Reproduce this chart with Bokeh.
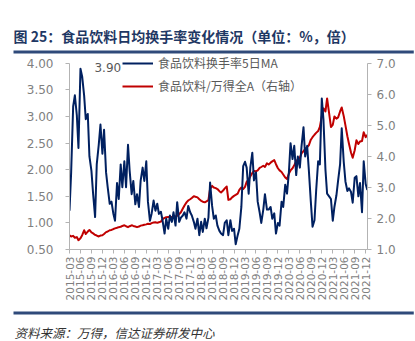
import pandas as pd
from bokeh.plotting import figure
from bokeh.models import (Range1d, LinearAxis, FixedTicker, Legend, LegendItem,
                          Label, PrintfTickFormatter, Title)
from bokeh.embed import file_html
from bokeh.resources import INLINE

# ---------------- data ----------------
title_text = "图 25：食品饮料日均换手率变化情况（单位：%，倍）"
source_text = "资料来源：万得，信达证券研发中心"
series_names = ["食品饮料换手率5日MA", "食品饮料/万得全A（右轴）"]

# semi-monthly observation dates (1st and 15th of each month)
dates = pd.date_range("2015-03-01", "2021-12-15", freq="SMS")

# 食品饮料换手率5日MA (%), left axis
turnover = [
    1.23, 1.95, 3.19, 3.40, 3.03, 2.41, 3.90, 3.75, 3.40, 2.95,
    3.05, 2.25, 1.98, 1.54, 1.11, 2.10, 2.47, 2.85, 2.30, 2.75,
    1.95, 1.67, 1.36, 1.40, 1.17, 1.04, 1.75, 1.45, 2.10, 1.67,
    2.16, 1.67, 2.47, 1.98, 1.54, 1.79, 1.35, 1.54, 1.30, 1.79,
    2.04, 1.79, 2.16, 1.40, 1.04, 1.17, 1.42, 1.23, 1.36, 1.17,
    1.21, 1.04, 0.80, 1.08, 0.89, 1.14, 1.02, 1.20, 0.95, 1.39,
    1.02, 1.10, 1.14, 1.20, 1.08, 1.32, 1.20, 1.14, 1.02, 0.89,
    1.08, 0.77, 1.02, 0.83, 1.08, 0.90, 1.10, 1.76, 1.32, 1.08,
    1.14, 0.95, 0.85, 0.80, 0.77, 1.00, 1.05, 0.77, 1.05, 0.85,
    0.89, 0.60, 0.77, 0.89, 1.30, 2.07, 2.15, 2.04, 1.55, 2.05,
    2.32, 1.80, 1.95, 1.40, 1.20, 1.00, 1.25, 1.54, 1.25, 1.25,
    1.30, 1.08, 1.18, 0.80, 1.00, 0.95, 1.40, 1.30, 1.72, 1.55,
    1.95, 2.50, 2.20, 2.45, 1.90, 2.25, 2.04, 2.45, 2.80, 2.25,
    2.45, 2.00, 1.40, 0.93, 1.05, 1.60, 2.16, 2.10, 3.34, 2.95,
    2.00, 1.55, 1.50, 1.45, 1.04, 1.30, 1.52, 1.80, 2.10, 2.78,
    2.15, 1.78, 1.60, 1.65, 1.58, 1.38, 1.85, 1.88, 1.50, 1.75,
    1.20, 2.16, 1.73, 1.62,
]

# 食品饮料/万得全A (倍), right axis
ratio = [
    1.46, 1.42, 1.44, 1.38, 1.40, 1.30, 1.36, 1.46, 1.62, 1.50,
    1.58, 1.63, 1.55, 1.52, 1.47, 1.45, 1.42, 1.45, 1.46, 1.50,
    1.56, 1.58, 1.62, 1.63, 1.66, 1.68, 1.70, 1.72, 1.73, 1.76,
    1.78, 1.75, 1.72, 1.75, 1.78, 1.76, 1.74, 1.72, 1.74, 1.77,
    1.78, 1.80, 1.81, 1.83, 1.82, 1.85, 1.87, 1.88, 1.86, 1.88,
    1.90, 1.98, 2.02, 2.04, 2.05, 2.03, 2.05, 2.04, 2.07, 2.09,
    2.14, 2.20, 2.32, 2.42, 2.52, 2.58, 2.62, 2.66, 2.72, 2.70,
    2.68, 2.62, 2.57, 2.54, 2.52, 2.55, 2.60, 2.95, 3.05, 3.00,
    2.98, 2.95, 2.88, 2.84, 2.90, 2.97, 3.03, 2.60, 2.62, 2.68,
    2.73, 2.76, 2.80, 2.92, 3.00, 2.95, 3.02, 3.18, 3.26, 3.36,
    3.47, 3.53, 3.52, 3.55, 3.63, 3.66, 3.70, 3.66, 3.78, 3.74,
    3.80, 3.84, 3.88, 3.75, 3.62, 3.55, 3.50, 3.42, 3.32, 3.27,
    3.45, 3.55, 3.62, 3.72, 3.85, 3.90, 3.96, 4.10, 4.17, 4.25,
    4.30, 4.36, 4.54, 4.62, 4.70, 4.76, 4.82, 4.95, 5.30, 5.55,
    5.45, 5.87, 5.40, 4.95, 5.02, 5.29, 5.22, 5.26, 5.45, 5.58,
    5.30, 5.00, 4.65, 4.40, 4.12, 3.96, 4.20, 4.52, 4.40, 4.48,
    4.50, 4.78, 4.62, 4.70,
]

tick_labels = [f"{y}-{m:02d}" for y in range(2015, 2022) for m in (3, 6, 9, 12)]
left_ticks = [0.5, 1.0, 1.5, 2.0, 2.5, 3.0, 3.5, 4.0]
right_ticks = [1, 2, 3, 4, 5, 6, 7]

n = min(len(dates), len(turnover), len(ratio))
dates = dates[:n]
turnover = turnover[:n]
ratio = ratio[:n]

# month offset from 2015-03 (continuous)
t = [(d.year - 2015) * 12 + (d.month - 3) + (d.day - 1) / d.days_in_month for d in dates]
tick_pos = [3 * i for i in range(len(tick_labels))]

BLUE = "#002060"
RED = "#C00000"
NAVY = "#2F4A7A"
AX = "#B3B3B3"
LBL = "#7F7F7F"
CJK = "Noto Sans CJK SC"

# frame spans canvas y 54..251; the axes themselves are bounded to 0.5..4.0 / 1..7
L_LO, L_HI = left_ticks[0], left_ticks[-1]
R_LO, R_HI = right_ticks[0], right_ticks[-1]
px_per_l = 188 / (L_HI - L_LO)
px_per_r = 188 / (R_HI - R_LO)

p = figure(width=415, height=341, x_range=Range1d(0, 81.5),
           y_range=Range1d(L_LO, L_LO + 197 / px_per_l),
           output_backend="svg", toolbar_location=None,
           min_border_left=69, min_border_right=48, min_border_top=54, min_border_bottom=90)
p.grid.visible = False
p.outline_line_color = None
p.extra_y_ranges = {"r": Range1d(R_LO, R_LO + 197 / px_per_r)}

r_red = p.line(t, ratio, y_range_name="r", line_color=RED, line_width=2, line_join="round")
r_blue = p.line(t, turnover, line_color=BLUE, line_width=2, line_join="round")

xa = p.xaxis[0]
xa.ticker = FixedTicker(ticks=tick_pos)
xa.major_label_overrides = {pos: lab for pos, lab in zip(tick_pos, tick_labels)}
xa.major_label_orientation = 1.5708
xa.minor_tick_line_color = None
xa.major_tick_in = 0
xa.major_tick_out = 4
xa.major_label_standoff = 3
xa.axis_line_color = AX
xa.major_tick_line_color = AX
xa.major_label_text_color = LBL
xa.major_label_text_font = "DejaVu Sans"
xa.major_label_text_font_size = "10.5px"

ya = p.yaxis[0]
ya.ticker = FixedTicker(ticks=left_ticks)
ya.formatter = PrintfTickFormatter(format="%.2f")
ya.bounds = (L_LO, L_HI)
ya.minor_tick_line_color = None
ya.major_tick_in = 0
ya.major_tick_out = 4
ya.major_label_standoff = 12
ya.axis_line_color = AX
ya.major_tick_line_color = AX
ya.major_label_text_color = LBL
ya.major_label_text_font = "DejaVu Sans"
ya.major_label_text_font_size = "12px"

yr = LinearAxis(y_range_name="r", ticker=FixedTicker(ticks=right_ticks),
                formatter=PrintfTickFormatter(format="%.1f"), bounds=(R_LO, R_HI))
yr.minor_tick_line_color = None
yr.major_tick_in = 0
yr.major_tick_out = 4
yr.major_label_standoff = 5
yr.axis_line_color = AX
yr.major_tick_line_color = AX
yr.major_label_text_color = LBL
yr.major_label_text_font = "DejaVu Sans"
yr.major_label_text_font_size = "12px"
p.add_layout(yr, "right")

# peak annotation derived from data
imax = max(range(n), key=lambda i: turnover[i])
p.add_layout(Label(x=t[imax], y=turnover[imax], text=f"{turnover[imax]:.2f}",
                   x_offset=14, y_offset=1, text_baseline="middle",
                   text_font="DejaVu Sans", text_font_size="12px", text_color="#595959"))

legend = Legend(items=[LegendItem(label=series_names[0], renderers=[r_blue]),
                       LegendItem(label=series_names[1], renderers=[r_red])],
                location=(53, 155), orientation="vertical",
                glyph_width=31, glyph_height=16, label_height=16, spacing=6,
                label_standoff=5, padding=0, margin=0,
                label_text_font=CJK, label_text_font_size="12px",
                label_text_color="#595959",
                background_fill_alpha=0, border_line_alpha=0)
p.add_layout(legend)

# ---- title and source as Title objects (side panels, not clipped) ----
p.title.text = title_text
p.title.align = "left"
p.title.offset = -56
p.title.text_font = CJK
p.title.text_font_size = "14px"
p.title.text_font_style = "bold"
p.title.text_color = "#1F3864"
p.title.standoff = 4

rule_top = Title(text=" ", align="left", offset=-56, text_font_size="1px",
                 background_fill_color=NAVY, padding=(200, 1), standoff=2)
p.add_layout(rule_top, "above")

rule_bot = Title(text=" ", align="left", offset=-56, text_font_size="1px",
                 background_fill_color=NAVY, padding=(200, 1), standoff=12)
p.add_layout(rule_bot, "below")

src = Title(text=source_text, align="left", offset=-55, text_font=CJK,
            text_font_size="12.5px", text_font_style="italic", text_color="#333333",
            standoff=0)
p.add_layout(src, "below")

open("out.html", "w").write(file_html(p, INLINE))
